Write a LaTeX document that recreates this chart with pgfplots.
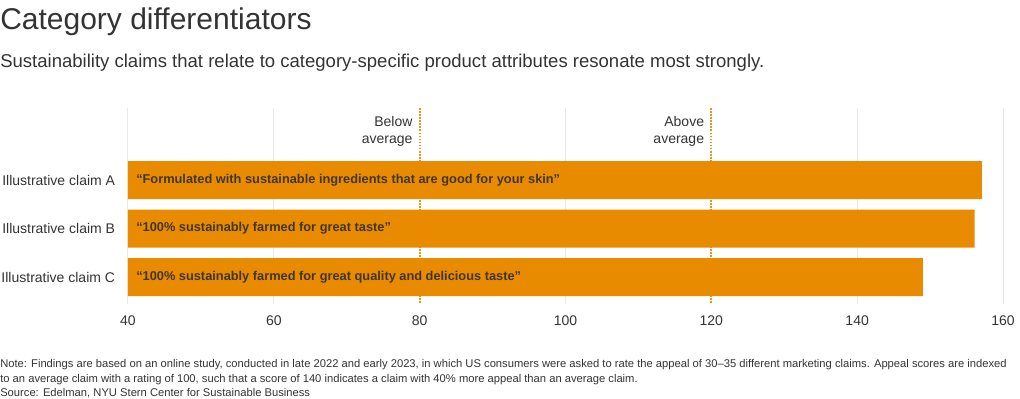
\documentclass[border=0pt]{standalone}
\usepackage{fontspec}
\setmainfont{Liberation Sans}
\usepackage{pgfplots}
\pgfplotsset{compat=1.18}
\definecolor{barorange}{RGB}{233,139,0}
\definecolor{txt}{RGB}{51,51,51}
\definecolor{bartxt}{RGB}{64,54,40}
\definecolor{gridc}{RGB}{232,232,232}
\definecolor{dotc}{RGB}{236,146,30}
\begin{document}
\begin{tikzpicture}
\begin{axis}[
  at={(0pt,0pt)}, anchor=south west,
  scale only axis, width=656.25pt, height=147.75pt,
  xmin=40, xmax=160, ymin=-1.485, ymax=2.577, y dir=reverse,
  axis line style={draw=none}, major tick length=0pt,
  xtick={40,60,80,100,120,140,160},
  ytick={0,1,2},
  yticklabels={Illustrative claim A, Illustrative claim B, Illustrative claim C},
  ticklabel style={font=\fontsize{10.5}{12}\selectfont, text=txt},
  /pgf/number format/assume math mode=true,
  xticklabel style={anchor=base, inner sep=0pt, yshift=-15pt},
  yticklabel style={anchor=east, inner sep=0pt, xshift=-9.5pt},
  clip=false,
]
\addplot[draw=gridc, line width=0.75pt, forget plot] coordinates {(40,-1.485) (40,2.55)};
\addplot[draw=gridc, line width=0.75pt, forget plot] coordinates {(60,-1.485) (60,2.55)};
\addplot[draw=gridc, line width=0.75pt, forget plot] coordinates {(100,-1.485) (100,2.55)};
\addplot[draw=gridc, line width=0.75pt, forget plot] coordinates {(140,-1.485) (140,2.55)};
\addplot[draw=gridc, line width=0.75pt, forget plot] coordinates {(160,-1.485) (160,2.55)};
\addplot[draw=dotc, line width=1.3pt, dash pattern=on 1.2pt off 1.1pt, forget plot] coordinates {(80,-1.485) (80,2.55)};
\addplot[draw=dotc, line width=1.3pt, dash pattern=on 1.2pt off 1.1pt, forget plot] coordinates {(120,-1.485) (120,2.55)};
\addplot[xbar, bar width=28.5pt, bar shift=0pt, fill=barorange, draw=none] coordinates {(157.1,0) (156.1,1) (149.0,2)};
\node[anchor=west, inner sep=0, text=bartxt, font=\bfseries\fontsize{9.6}{12}\selectfont, xshift=6pt] at (axis cs:40,0) {“Formulated with sustainable ingredients that are good for your skin”};
\node[anchor=west, inner sep=0, text=bartxt, font=\bfseries\fontsize{9.6}{12}\selectfont, xshift=6pt] at (axis cs:40,1) {“100\% sustainably farmed for great taste”};
\node[anchor=west, inner sep=0, text=bartxt, font=\bfseries\fontsize{9.6}{12}\selectfont, xshift=6pt] at (axis cs:40,2) {“100\% sustainably farmed for great quality and delicious taste”};
\node[anchor=north east, align=right, inner sep=0, text=txt, font=\fontsize{10.5}{12.75}\selectfont, xshift=-5.25pt, yshift=-6pt] at (axis cs:80,-1.485) {Below\\average};
\node[anchor=north east, align=right, inner sep=0, text=txt, font=\fontsize{10.5}{12.75}\selectfont, xshift=-5.25pt, yshift=-6pt] at (axis cs:120,-1.485) {Above\\average};
\end{axis}
\begin{scope}[shift={(-96pt,228.75pt)}, x=0.75pt, y=-0.75pt]
\path (0,0) rectangle (1020,399);
\node[anchor=base west, inner sep=0, text=txt, font=\fontsize{22.5}{27}\selectfont] at (0,30) {Category differentiators};
\node[anchor=base west, inner sep=0, text=txt, font=\fontsize{13.9}{16}\selectfont] at (0,68) {Sustainability claims that relate to category-specific product attributes resonate most strongly.};
\node[anchor=base west, inner sep=0, text=txt, font=\fontsize{8.4}{10}\selectfont] at (0,368) {Note: Findings are based on an online study, conducted in late 2022 and early 2023, in which US consumers were asked to rate the appeal of 30–35 different marketing claims. Appeal scores are indexed};
\node[anchor=base west, inner sep=0, text=txt, font=\fontsize{8.4}{10}\selectfont] at (0,382.5) {to an average claim with a rating of 100, such that a score of 140 indicates a claim with 40\% more appeal than an average claim.};
\node[anchor=base west, inner sep=0, text=txt, font=\fontsize{8.4}{10}\selectfont] at (0,397) {Source: Edelman, NYU Stern Center for Sustainable Business};
\end{scope}
\end{tikzpicture}
\end{document}
